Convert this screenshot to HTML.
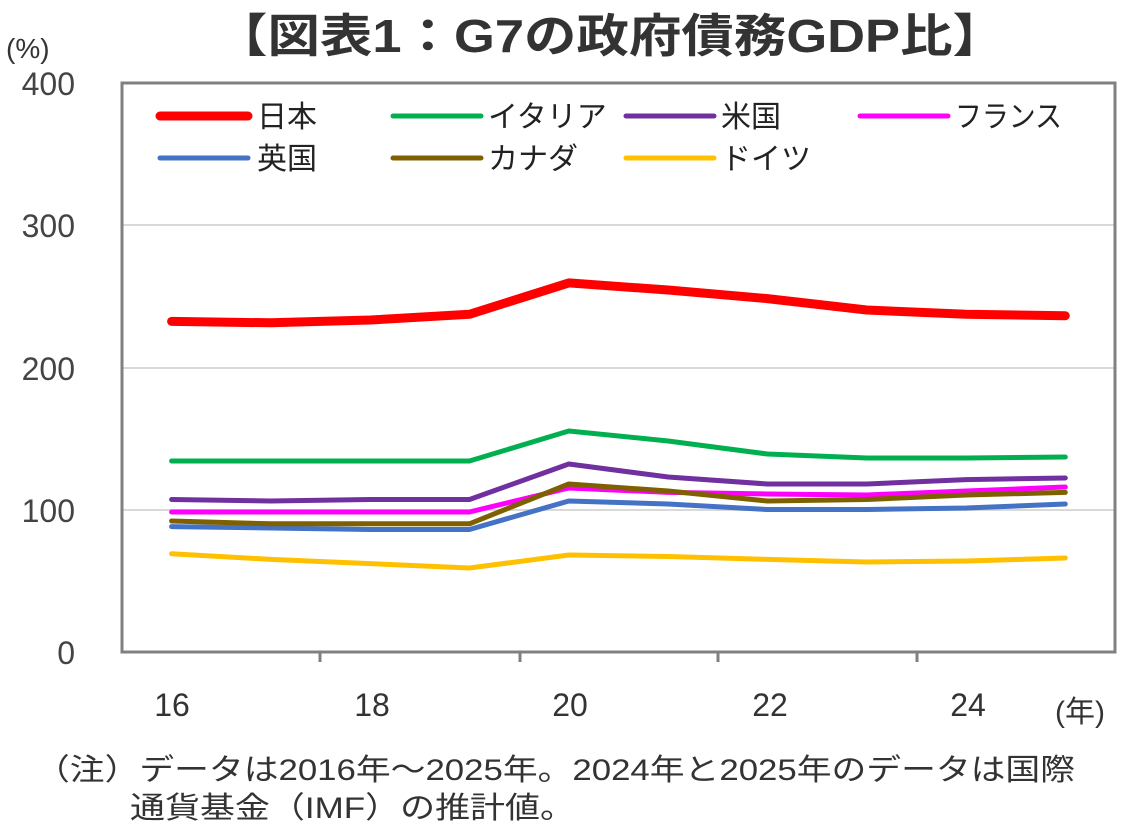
<!DOCTYPE html><html><head><meta charset="utf-8"><style>body{margin:0;background:#fff}svg{display:block}text{font-family:"Liberation Sans","Noto Sans CJK JP",sans-serif}</style></head><body>
<svg width="1128" height="837" viewBox="0 0 1128 837">
<text x="215" y="52" textLength="790" lengthAdjust="spacingAndGlyphs" font-size="46" font-weight="bold" fill="#333">【図表1：G7の政府債務GDP比】</text>
<text x="6" y="58" font-size="28" fill="#333">(%)</text>
<g font-size="32" fill="#444" text-anchor="end">
<text x="75" y="95">400</text><text x="75" y="237">300</text><text x="75" y="380">200</text><text x="75" y="522">100</text><text x="75" y="664">0</text></g>
<g stroke="#d9d9d9" stroke-width="2"><line x1="122" y1="225" x2="1115" y2="225"/><line x1="122" y1="368" x2="1115" y2="368"/><line x1="122" y1="510" x2="1115" y2="510"/></g>
<rect x="122" y="83" width="993" height="569" fill="none" stroke="#808080" stroke-width="3"/>
<g stroke="#808080" stroke-width="3"><line x1="320" y1="652" x2="320" y2="662"/><line x1="520" y1="652" x2="520" y2="662"/><line x1="718" y1="652" x2="718" y2="662"/><line x1="917" y1="652" x2="917" y2="662"/></g>
<g font-size="32" fill="#333" text-anchor="middle"><text x="172" y="716">16</text><text x="372" y="716">18</text><text x="570" y="716">20</text><text x="770" y="716">22</text><text x="968" y="716">24</text></g>
<text x="1055" y="722" font-size="30" fill="#333">(年)</text>
<g fill="none" stroke-linejoin="round" stroke-linecap="round">
<polyline stroke="#ffc000" stroke-width="5" points="171.6,553.7 270.9,559.4 370.2,563.6 469.5,568 568.8,555 668.1,556.5 767.4,559.4 866.7,562 966,561 1065.3,558"/>
<polyline stroke="#4472c4" stroke-width="5" points="171.6,526.6 270.9,528 370.2,529.5 469.5,529.5 568.8,501 668.1,504 767.4,509.5 866.7,509.5 966,508 1065.3,504"/>
<polyline stroke="#ff00ff" stroke-width="5" points="171.6,512 270.9,512 370.2,512 469.5,512 568.8,488 668.1,492.4 767.4,494 866.7,495 966,491 1065.3,487"/>
<polyline stroke="#7f6000" stroke-width="5" points="171.6,521 270.9,523.8 370.2,523.8 469.5,523.8 568.8,484 668.1,491 767.4,501 866.7,499.5 966,495 1065.3,492.4"/>
<polyline stroke="#7030a0" stroke-width="5" points="171.6,499.5 270.9,501 370.2,499.5 469.5,499.5 568.8,464 668.1,477 767.4,484 866.7,484 966,479.6 1065.3,478"/>
<polyline stroke="#00b050" stroke-width="5" points="171.6,461 270.9,461 370.2,461 469.5,461 568.8,431 668.1,441 767.4,454 866.7,458 966,458 1065.3,457"/>
<polyline stroke="#ff0000" stroke-width="9" points="171.6,321.4 270.9,322.8 370.2,320 469.5,314.3 568.8,282.9 668.1,290 767.4,298.6 866.7,310 966,314.3 1065.3,315.7"/>
</g>
<g stroke-linecap="round"><line x1="160" y1="116" x2="248" y2="116" stroke="#ff0000" stroke-width="9"/><line x1="393" y1="116" x2="481" y2="116" stroke="#00b050" stroke-width="5"/><line x1="626" y1="116" x2="714" y2="116" stroke="#7030a0" stroke-width="5"/><line x1="860" y1="116" x2="948" y2="116" stroke="#ff00ff" stroke-width="5"/>
<line x1="160" y1="158" x2="248" y2="158" stroke="#4472c4" stroke-width="5"/><line x1="393" y1="158" x2="481" y2="158" stroke="#7f6000" stroke-width="5"/><line x1="626" y1="158" x2="714" y2="158" stroke="#ffc000" stroke-width="5"/></g>
<g font-size="30" fill="#222"><text x="257" y="127">日本</text><text x="488" y="127">イタリア</text><text x="721" y="127">米国</text><text x="955" y="127" textLength="107" lengthAdjust="spacingAndGlyphs">フランス</text><text x="257" y="169">英国</text><text x="488" y="169">カナダ</text><text x="721" y="169">ドイツ</text></g>
<g font-size="30" fill="#333"><text x="35" y="780" textLength="1040" lengthAdjust="spacingAndGlyphs">（注）データは2016年～2025年。2024年と2025年のデータは国際</text><text x="130" y="818" textLength="445" lengthAdjust="spacingAndGlyphs">通貨基金（IMF）の推計値。</text></g>
</svg></body></html>
